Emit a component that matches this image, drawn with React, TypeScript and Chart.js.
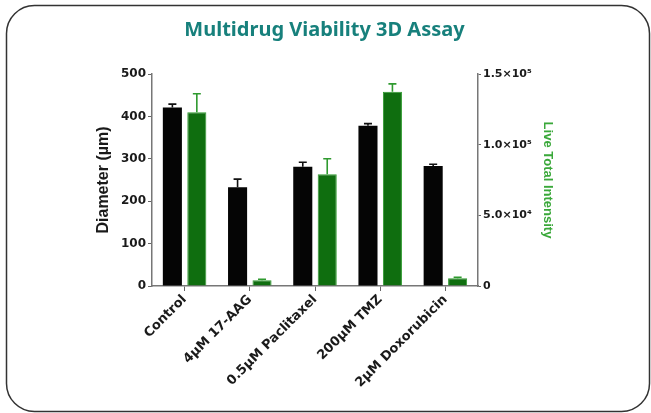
import React, { useEffect, useRef } from "react";
import { Chart, registerables } from "chart.js";

Chart.register(...registerables);

const categories = ["Control", "4µM 17-AAG", "0.5µM Paclitaxel", "200µM TMZ", "2µM Doxorubicin"];
const diameter = [421, 233, 281, 378, 283];
const diameterErr = [8, 19, 11, 5, 4];
const intensity = [123000, 4000, 79000, 137500, 5500];
const intensityErr = [13000, 800, 11000, 5500, 700];
const leftTicks = [0, 100, 200, 300, 400, 500];
const rightTickLabels = ["0", "5.0×10⁴", "1.0×10⁵", "1.5×10⁵"];
const title = "Multidrug Viability 3D Assay";
const leftTitle = "Diameter (µm)";
const rightTitle = "Live Total Intensity";

const errors = [diameterErr, intensityErr];

const frameAndErrors = {
  id: "frameAndErrors",
  beforeDraw(chart: any) {
    const ctx = chart.ctx;
    ctx.save();
    ctx.strokeStyle = "#333";
    ctx.lineWidth = 1.5;
    ctx.beginPath();
    ctx.roundRect(6.5, 5.5, 643, 406, 28);
    ctx.stroke();
    ctx.restore();
  },
  afterDatasetsDraw(chart: any) {
    const ctx = chart.ctx;
    chart.data.datasets.forEach((ds: any, i: number) => {
      const meta = chart.getDatasetMeta(i);
      const scale = chart.scales[ds.yAxisID];
      ctx.save();
      ctx.strokeStyle = ds.errColor;
      ctx.lineWidth = 1.6;
      meta.data.forEach((bar: any, j: number) => {
        const top = scale.getPixelForValue(ds.data[j] + errors[i][j]);
        ctx.beginPath();
        ctx.moveTo(bar.x, bar.y);
        ctx.lineTo(bar.x, top);
        ctx.moveTo(bar.x - 4, top);
        ctx.lineTo(bar.x + 4, top);
        ctx.stroke();
      });
      ctx.restore();
    });
  },
};

export default function App() {
  const ref = useRef<HTMLCanvasElement>(null);
  useEffect(() => {
    if (!ref.current) return;
    const tickFont = { family: "'DejaVu Sans', sans-serif", size: 12, weight: "bold" as const };
    const titleFont = { family: "'Liberation Sans', Arial, sans-serif", size: 16, weight: "bold" as const };
    const chart = new Chart(ref.current, {
      type: "bar",
      data: {
        labels: categories,
        datasets: [
          {
            label: "Diameter",
            data: diameter,
            yAxisID: "y",
            backgroundColor: "#050505",
            borderColor: "#000",
            borderWidth: 0,
            categoryPercentage: 0.75,
            barPercentage: 0.78,
            errColor: "#111",
          } as any,
          {
            label: "Intensity",
            data: intensity,
            yAxisID: "y2",
            backgroundColor: "#0f6e0f",
            borderColor: "#2f9a2f",
            borderWidth: 1,
            categoryPercentage: 0.75,
            barPercentage: 0.78,
            errColor: "#2f9a2f",
          } as any,
        ],
      },
      options: {
        animation: false,
        responsive: true,
        maintainAspectRatio: false,
        layout: { padding: { left: 94, right: 96, top: 5, bottom: 8 } },
        plugins: {
          legend: { display: false },
          tooltip: { enabled: false },
          title: {
            display: true,
            text: title,
            color: "#17807c",
            font: { family: "'Noto Sans', sans-serif", size: 20, weight: "bold" },
            padding: { top: 13, bottom: 32 },
          },
        },
        scales: {
          x: {
            offset: true,
            grid: { display: true, offset: false, drawOnChartArea: false, drawTicks: true, tickLength: 5, color: "#666" },
            border: { display: true, color: "#777", width: 1.5 },
            ticks: { color: "#1a1a1a", font: { ...tickFont, size: 13 }, maxRotation: 45, minRotation: 45, padding: 1 },
            afterFit: (s: any) => { s.height = 413 - 8 - 286; },
          },
          y: {
            position: "left",
            min: 0,
            max: 500,
            afterBuildTicks: (s: any) => { s.ticks = leftTicks.map((v) => ({ value: v })); },
            grid: { display: true, drawOnChartArea: false, drawTicks: true, tickLength: 4, color: "#666" },
            border: { display: true, color: "#777", width: 1.5 },
            ticks: { color: "#1a1a1a", font: tickFont, padding: 2 },
            title: { display: true, text: leftTitle, color: "#1a1a1a", font: titleFont, padding: 0 },
            afterFit: (s: any) => { s.width = 152 - 94; },
          },
          y2: {
            position: "right",
            min: 0,
            max: 150000,
            afterBuildTicks: (s: any) => { s.ticks = rightTickLabels.map((_, i) => ({ value: i * 50000 })); },
            grid: { display: true, drawOnChartArea: false, drawTicks: true, tickLength: 3, color: "#666" },
            border: { display: true, color: "#777", width: 1.5 },
            ticks: {
              color: "#1a1a1a",
              font: { ...tickFont, size: 11 },
              padding: 2,
              callback: (_v: any, i: number) => rightTickLabels[i],
            },
            title: { display: true, text: rightTitle, color: "#3aa83a", font: { ...titleFont, size: 13 }, padding: 0 },
            afterFit: (s: any) => { s.width = 651 - 96 - 478; },
          },
        },
      } as any,
      plugins: [frameAndErrors],
    });
    return () => chart.destroy();
  }, []);
  return (
    <div style={{ position: "absolute", left: 0, top: 0, width: 651, height: 413, background: "#fff" }}>
      <canvas ref={ref} />
    </div>
  );
}
